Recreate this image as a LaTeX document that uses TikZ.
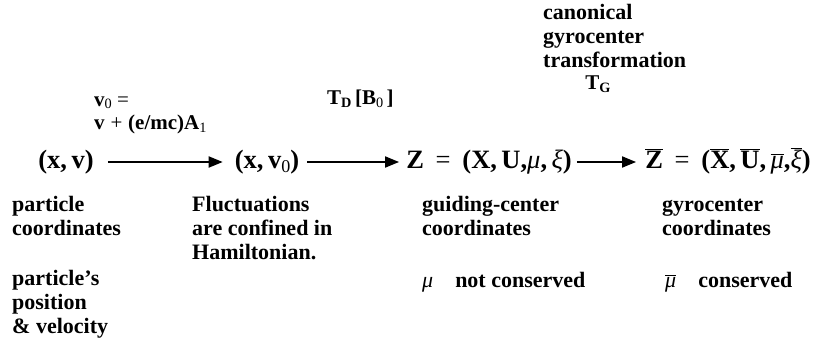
\documentclass[tikz,border=0pt]{standalone}
\usepackage{graphicx}
\usepackage{fontspec}
\setmainfont{Liberation Serif}
\usetikzlibrary{arrows.meta,positioning}
\newcommand{\lowidx}[1]{\raisebox{-0.4ex}{\scalebox{0.68}{#1}}}
\newcommand{\gk}[1]{{\mdseries\itshape #1}}
\newcommand{\barb}[1]{$\overline{\hbox{#1}}$}
\tikzset{
  coordrow/.style={font=\fontsize{26.5}{28}\selectfont\bfseries,inner sep=0pt,
    text height=18pt,text depth=6pt,anchor=base},
  note/.style={font=\fontsize{22}{24}\selectfont\bfseries,align=left,inner sep=0pt,
    anchor=base west},
  maplabel/.style={font=\fontsize{21}{23}\selectfont\bfseries,align=left,inner sep=0pt},
  arrow/.style={-{Triangle[length=14pt,width=11pt]},line width=1.8pt}
}
\begin{document}
\begin{tikzpicture}[x=1pt,y=-1pt]
  \useasboundingbox (0,0) rectangle (813,353);
  % main row of coordinate sets
  \node[coordrow] (xv) at (66,168) {(x,\,v)};
  \node[coordrow] (xvz) at (267,168) {(x,\,v\lowidx{\mdseries 0})};
  \node[coordrow] (gc) at (489,168) {Z\;\,{\mdseries=}\;\,(X,\,U,\gk{μ},\,\gk{ξ})};
  \node[coordrow] (gy) at (728,168) {\barb{Z}\;\,{\mdseries=}\;\,(\barb{X},\,\barb{U},\,\barb{\gk{μ}},\barb{\gk{ξ}})};
  \draw[arrow,shorten <=14pt,shorten >=12pt] (xv) -- (xvz);
  \draw[arrow,shorten <=8pt,shorten >=7pt] (xvz) -- (gc);
  \draw[arrow,shorten <=5pt,shorten >=9pt] (gc) -- (gy);
  % transformation labels (base = last line)
  \node[maplabel,anchor=base west] (vmap) at (94,129) {v\raisebox{-0.25ex}{\scalebox{0.68}{\mdseries 0}} {\mdseries=}\\v\;{\mdseries+}\;(e/mc)A\lowidx{\mdseries 1}};
  \node[maplabel,anchor=base west] (tdmap) at (327,104) {T\lowidx{D}\,[B\lowidx{\mdseries 0}\,]};
  \node[note,anchor=north west] (canon) at (543,4) {canonical\\gyrocenter\\transformation};
  \node[maplabel,anchor=base] (tgmap) at (598,89) {T\lowidx{G}};
  % descriptions (base = last line)
  \node[note] (partnote) at (12,235) {particle\\coordinates};
  \node[note] (fluctnote) at (192,259) {Fluctuations\\are confined in\\Hamiltonian.};
  \node[note] (gcnote) at (422,235) {guiding-center\\coordinates};
  \node[note] (gynote) at (662,235) {gyrocenter\\coordinates};
  \node[note] (posnote) at (12,333) {particle’s\\position\\\& velocity};
  \node[note] (gcmu) at (422,287) {\gk{μ}\quad not conserved};
  \node[note] (gymu) at (665,287) {\barb{\gk{μ}}\quad conserved};
\end{tikzpicture}
\end{document}
